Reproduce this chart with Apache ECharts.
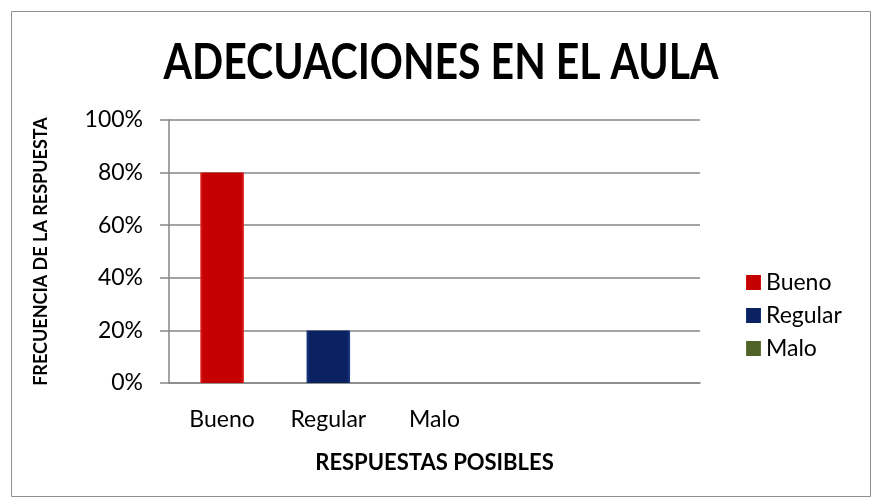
<!DOCTYPE html>
<html><head><meta charset="utf-8">
<script src="https://cdn.jsdelivr.net/npm/echarts@6/dist/echarts.min.js"></script>
<style>html,body{margin:0;padding:0;background:#fff}#c{width:877px;height:504px}</style>
</head><body><div id="c"></div>
<script>
const titleText = 'ADECUACIONES EN EL AULA';
const categories = ['Bueno', 'Regular', 'Malo', '', ''];
const seriesNames = ['Bueno', 'Regular', 'Malo'];
const values = [80, 20, 0];
const yTicks = [0, 20, 40, 60, 80, 100];
const colors = ['#C40000', '#0A2262', '#4F6228'];
const light = ['#E02020', '#1E3C86', '#6E8A3C'];

const chart = echarts.init(document.getElementById('c'));
const FONT = 'Lato, "Open Sans", sans-serif';
const series = seriesNames.map((name, i) => ({
  name: name,
  type: 'bar',
  stack: 'all',
  barWidth: '41%',
  data: categories.map((c, j) => (j === i ? values[i] : null)),
  itemStyle: {
    color: new echarts.graphic.LinearGradient(0, 0, 1, 0, [
      {offset: 0, color: light[i]},
      {offset: 0.07, color: colors[i]},
      {offset: 0.93, color: colors[i]},
      {offset: 1, color: light[i]}
    ])
  }
}));

chart.setOption({
  animation: false,
  backgroundColor: '#fff',
  graphic: [{
    type: 'rect', left: 9, top: 9,
    shape: {width: 859, height: 485},
    style: {fill: 'none', stroke: '#8E8E8E', lineWidth: 1}
  }, {
    type: 'text', x: 441, y: 63, scaleX: 0.82,
    style: {
      text: titleText, fill: '#000',
      font: 'bold 50px Lato, "Open Sans", sans-serif',
      textAlign: 'center', textVerticalAlign: 'middle'
    }
  }],
  legend: {
    orient: 'vertical', left: 741, top: 266,
    itemWidth: 15, itemHeight: 15, itemGap: 10,
    icon: 'rect',
    textStyle: {fontFamily: FONT, fontSize: 23, color: '#000'},
    data: seriesNames
  },
  grid: {left: 169, right: 177, top: 120, bottom: 121},
  xAxis: {
    type: 'category', data: categories,
    name: 'RESPUESTAS POSIBLES', nameLocation: 'middle', nameGap: 69,
    nameTextStyle: {fontFamily: FONT, fontWeight: 'bold', fontSize: 22, color: '#000'},
    axisLine: {lineStyle: {color: '#868686', width: 1.5}},
    axisTick: {show: false},
    axisLabel: {fontFamily: FONT, fontSize: 23, color: '#000', margin: 25}
  },
  yAxis: {
    type: 'value', min: 0, max: 100, interval: 20,
    name: 'FRECUENCIA DE LA RESPUESTA', nameLocation: 'middle', nameGap: 119,
    nameTextStyle: {fontFamily: FONT, fontWeight: 'bold', fontSize: 18, color: '#000'},
    axisLine: {show: true, lineStyle: {color: '#868686', width: 1.5}},
    axisTick: {show: true, length: 9, lineStyle: {color: '#868686', width: 1.5}},
    splitLine: {lineStyle: {color: '#868686', width: 1.5}},
    axisLabel: {fontFamily: FONT, fontSize: 23, color: '#000', margin: 26,
      formatter: v => (yTicks.indexOf(v) >= 0 ? v + '%' : '')}
  },
  series: series
});
</script></body></html>
